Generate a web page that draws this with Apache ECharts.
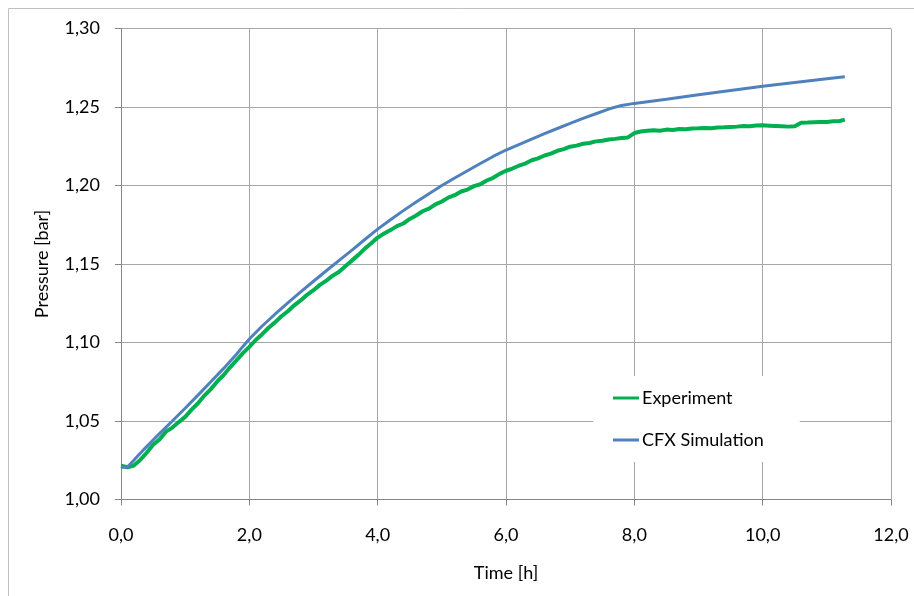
<!DOCTYPE html>
<html>
<head>
<meta charset="utf-8">
<script src="https://cdn.jsdelivr.net/npm/echarts@6/dist/echarts.min.js"></script>
<style>
html,body{margin:0;padding:0;background:#fff;}
#c{width:914px;height:596px;}
</style>
</head>
<body>
<div id="c"></div>
<script>
var xTicks = [0, 2, 4, 6, 8, 10, 12];
var yTicks = [1.00, 1.05, 1.10, 1.15, 1.20, 1.25, 1.30];
var seriesNames = ['Experiment', 'CFX Simulation'];

var timeExp = [0.0,0.1,0.2,0.3,0.4,0.5,0.6,0.7,0.8,0.9,1.0,1.1,1.2,1.3,1.4,1.5,1.6,1.7,1.8,1.9,
2.0,2.1,2.2,2.3,2.4,2.5,2.6,2.7,2.8,2.9,3.0,3.1,3.2,3.3,3.4,3.5,3.6,3.7,3.8,3.9,
4.0,4.1,4.2,4.3,4.4,4.5,4.6,4.7,4.8,4.9,5.0,5.1,5.2,5.3,5.4,5.5,5.6,5.7,5.8,5.9,
6.0,6.1,6.2,6.3,6.4,6.5,6.6,6.7,6.8,6.9,7.0,7.1,7.2,7.3,7.4,7.5,7.6,7.7,7.8,7.9,
8.0,8.1,8.2,8.3,8.4,8.5,8.6,8.7,8.8,8.9,9.0,9.1,9.2,9.3,9.4,9.5,9.6,9.7,9.8,9.9,
10.0,10.1,10.2,10.3,10.4,10.5,10.6,10.7,10.8,10.9,11.0,11.1,11.2,11.28];
var pressureExp = [1.0215,1.0205,1.0216,1.0252,1.0298,1.0349,1.0383,1.0432,1.0458,1.0493,
1.0526,1.0572,1.0613,1.0662,1.0703,1.0752,1.0793,1.0842,1.0887,1.0932,
1.0972,1.1016,1.1053,1.1094,1.1128,1.1167,1.1199,1.1237,1.1268,1.1304,
1.1333,1.1367,1.1394,1.1426,1.1451,1.1487,1.1523,1.1558,1.1598,1.1632,
1.1668,1.1694,1.1716,1.1741,1.1758,1.1787,1.1809,1.1836,1.1853,1.1880,
1.1898,1.1923,1.1938,1.1962,1.1974,1.1996,1.2008,1.2032,1.2049,1.2074,
1.2094,1.2108,1.2126,1.2140,1.2161,1.2173,1.2191,1.2203,1.2221,1.2232,
1.2247,1.2254,1.2266,1.2271,1.2281,1.2285,1.2293,1.2297,1.2303,1.2306,
1.2334,1.2344,1.2348,1.2352,1.2349,1.2356,1.2353,1.2360,1.2358,1.2363,
1.2364,1.2367,1.2365,1.2370,1.2371,1.2373,1.2375,1.2379,1.2378,1.2382,
1.2383,1.2381,1.2379,1.2377,1.2375,1.2377,1.2400,1.2401,1.2403,1.2404,
1.2405,1.2409,1.2411,1.2420];

var timeCfx = [0.0,0.1,0.2,0.3,0.4,0.5,0.6,0.8,1.0,1.2,1.4,1.6,1.8,1.9,2.0,2.2,2.4,2.6,2.8,3.0,
3.2,3.4,3.6,3.8,4.0,4.2,4.4,4.6,4.8,5.0,5.2,5.4,5.6,5.8,6.0,6.2,6.4,6.6,6.8,7.0,
7.2,7.4,7.6,7.8,8.0,8.5,9.0,9.5,10.0,10.5,11.0,11.28];
var pressureCfx = [1.0205,1.0207,1.0250,1.0295,1.0337,1.0379,1.0420,1.0500,1.0581,1.0665,
1.0750,1.0835,1.0925,1.0975,1.1022,1.1105,1.1180,1.1252,1.1322,1.1390,
1.1457,1.1523,1.1588,1.1656,1.1722,1.1782,1.1840,1.1895,1.1948,1.2000,
1.2048,1.2094,1.2140,1.2185,1.2226,1.2261,1.2296,1.2330,1.2363,1.2396,
1.2427,1.2457,1.2487,1.2510,1.2523,1.2550,1.2578,1.2605,1.2632,1.2656,
1.2680,1.2693];

function pairs(xs, ys){ return xs.map(function(x,i){ return [x, ys[i]]; }); }

var FONT = 'Lato';
var FS = 18;
var chart = echarts.init(document.getElementById('c'), null, {renderer:'canvas'});
chart.setOption({
  animation: false,
  backgroundColor: '#ffffff',
  graphic: [{
    type: 'rect', left: 8, top: 8, silent: true, z: -10,
    shape: {x: 0, y: 0, width: 920, height: 610},
    style: {fill: '#ffffff', stroke: '#c0c0c0', lineWidth: 1}
  }],
  grid: {left: 121, top: 28.5, right: 23, bottom: 96.5, containLabel: false},
  xAxis: {
    type: 'value', min: xTicks[0], max: xTicks[xTicks.length-1], interval: xTicks[1]-xTicks[0],
    name: 'Time [h]', nameLocation: 'middle', nameGap: 65,
    nameTextStyle: {fontFamily: FONT, fontSize: FS, color: '#000'},
    axisLine: {show: true, onZero: false, lineStyle: {color: '#868686', width: 1}},
    axisTick: {show: true, inside: false, length: 6, lineStyle: {color: '#868686'}},
    axisLabel: {margin: 27, fontFamily: FONT, fontSize: FS, color: '#000',
      formatter: function(v){ return v.toFixed(1).replace('.', ','); }},
    splitLine: {show: true, lineStyle: {color: '#a6a6a6', width: 1}}
  },
  yAxis: {
    type: 'value', min: yTicks[0], max: yTicks[yTicks.length-1], interval: 0.05,
    name: 'Pressure [bar]', nameLocation: 'middle', nameGap: 70,
    nameTextStyle: {fontFamily: FONT, fontSize: FS, color: '#000'},
    axisLine: {show: true, lineStyle: {color: '#868686', width: 1}},
    axisTick: {show: true, inside: false, length: 6, lineStyle: {color: '#868686'}},
    axisLabel: {margin: 21, fontFamily: FONT, fontSize: FS, color: '#000',
      formatter: function(v){ return v.toFixed(2).replace('.', ','); }},
    splitLine: {show: true, lineStyle: {color: '#a6a6a6', width: 1}}
  },
  legend: {
    orient: 'vertical', left: 593, top: 376,
    backgroundColor: '#ffffff',
    padding: [13, 36, 13, 20],
    itemGap: 24, itemWidth: 26, itemHeight: 3,
    textStyle: {fontFamily: FONT, fontSize: FS, color: '#000', padding: [0,0,0,-2]},
    data: [{name: seriesNames[0], icon: 'rect'}, {name: seriesNames[1], icon: 'rect'}]
  },
  series: [{
    name: seriesNames[0], type: 'line', showSymbol: false, symbol: 'none',
    data: pairs(timeExp, pressureExp),
    itemStyle: {color: '#00b050'},
    lineStyle: {color: '#00b050', width: 4}
  }, {
    name: seriesNames[1], type: 'line', showSymbol: false, symbol: 'none',
    data: pairs(timeCfx, pressureCfx),
    itemStyle: {color: '#4f81bd'},
    lineStyle: {color: '#4f81bd', width: 3}
  }]
});
</script>
</body>
</html>
